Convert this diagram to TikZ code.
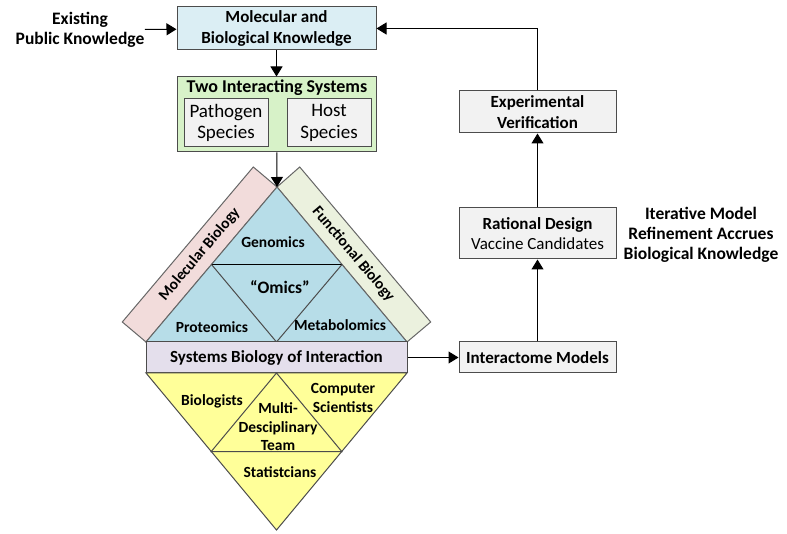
\documentclass[tikz,border=0pt]{standalone}
\usepackage{fontspec}
\setmainfont{Carlito}
\usetikzlibrary{arrows.meta}

\definecolor{kbblue}{RGB}{219,238,244}
\definecolor{sysgreen}{RGB}{215,242,200}
\definecolor{boxgrey}{RGB}{242,242,242}
\definecolor{omicsblue}{RGB}{183,221,232}
\definecolor{molpink}{RGB}{242,220,219}
\definecolor{funcbeige}{RGB}{235,241,222}
\definecolor{syslav}{RGB}{228,223,236}
\definecolor{teamyellow}{RGB}{255,255,153}

\newcommand{\boxfont}{\fontsize{17}{20.6}\selectfont\bfseries}
\newcommand{\omicsfont}{\fontsize{15.5}{19}\selectfont\bfseries}

\tikzset{
    box/.style={draw=black!70, fill=#1, minimum width=157, minimum height=42, inner sep=0pt, align=center, font=\boxfont},
    lbl/.style={inner sep=0pt, align=center, font=\omicsfont},
}

\begin{document}
\begin{tikzpicture}[x=1pt, y=1pt, line width=1pt, >={Triangle[length=10pt,width=12pt]}]
        \useasboundingbox (0,0) rectangle (787,533);

        \node[box=kbblue, minimum width=199, minimum height=43] (kb) at (276.5,504.5) {Molecular and\\Biological Knowledge};
        \node[lbl, font=\fontsize{17.5}{20.5}\selectfont\bfseries] (existing) at (80,503) {Existing\\Public Knowledge};
        \node[box=sysgreen, minimum width=199, minimum height=75] (sys) at (276.5,418.5) {};
        \node[lbl, font=\fontsize{18}{21}\selectfont\bfseries] (two) at (277,445) {Two Interacting Systems};
        \node[box=boxgrey, minimum width=84, minimum height=48, font=\fontsize{19}{21.5}\selectfont] (pathogen) at (226,410) {Pathogen\\Species};
        \node[box=boxgrey, minimum width=84, minimum height=48, font=\fontsize{19}{21.5}\selectfont] (host) at (329,410) {Host\\Species};

        \coordinate (apex) at (277,346);
        \coordinate (baseL) at (146,191);
        \coordinate (baseR) at (407,191);

        % the two bands and the omics triangle
        \filldraw[fill=molpink, draw=black!60] (apex) -- (baseL) -- ++(-23.7,20) -- ++(131,155) -- cycle;
        \filldraw[fill=funcbeige, draw=black!60] (apex) -- (baseR) -- ++(23.7,20) -- ++(-131,155) -- cycle;
        \filldraw[fill=omicsblue, draw=black!60] (apex) -- (baseL) -- (baseR) -- cycle;
        \draw (211.5,268.5) -- (342,268.5);
        \draw[black!70] (211.5,268.5) -- (276.5,191) -- (342,268.5);

        \node[lbl, rotate=49.8] (molbio) at (199.7,278.5) {Molecular Biology};
        \node[lbl, rotate=-49.8] (funcbio) at (353.3,278.5) {Functional Biology};
        \node[lbl] (genomics) at (273,291) {Genomics};
        \node[lbl, font=\fontsize{17.5}{20}\selectfont\bfseries] (omics) at (280,246) {``Omics''};
        \node[lbl] (proteomics) at (212,206) {Proteomics};
        \node[lbl] (metabolomics) at (340,208) {Metabolomics};

        \node[box=syslav, minimum width=261, minimum height=31] (systems) at (276.5,175.5) {Systems Biology of Interaction};

        % team triangle
        \filldraw[fill=teamyellow, draw=black!70] (146,160) -- (407,160) -- (276.5,3) -- cycle;
        \draw[black!70] (211.25,81.5) -- (341.75,81.5) -- (276.5,160) -- cycle;
        \node[lbl] (biologists) at (212,132) {Biologists};
        \node[lbl] (computer) at (343,135) {Computer\\Scientists};
        \node[lbl, font=\fontsize{15.5}{18.5}\selectfont\bfseries] (team) at (278,106) {Multi-\\Desciplinary\\Team};
        \node[lbl] (stats) at (280,61) {Statistcians};

        % refinement loop
        \node[box=boxgrey] (exp) at (537.5,421) {Experimental\\Verification};
        \node[box=boxgrey, minimum height=51] (rat) at (537.5,299.5) {Rational Design\\\mdseries Vaccine Candidates};
        \node[box=boxgrey, minimum height=31] (inter) at (537.5,175.5) {Interactome Models};
        \node[lbl, font=\fontsize{17.5}{20}\selectfont\bfseries] (iter) at (701,298) {Iterative Model\\Refinement Accrues\\Biological Knowledge};

        \draw[->] (existing) -- (kb);
        \draw[->] (kb) -- (sys);
        \draw[->] (sys) -- (apex);
        \draw[->] (systems) -- (inter);
        \draw[->] (inter) -- (rat);
        \draw[->] (rat) -- (exp);
        \draw[->] (exp) |- (kb);
    \end{tikzpicture}
\end{document}
